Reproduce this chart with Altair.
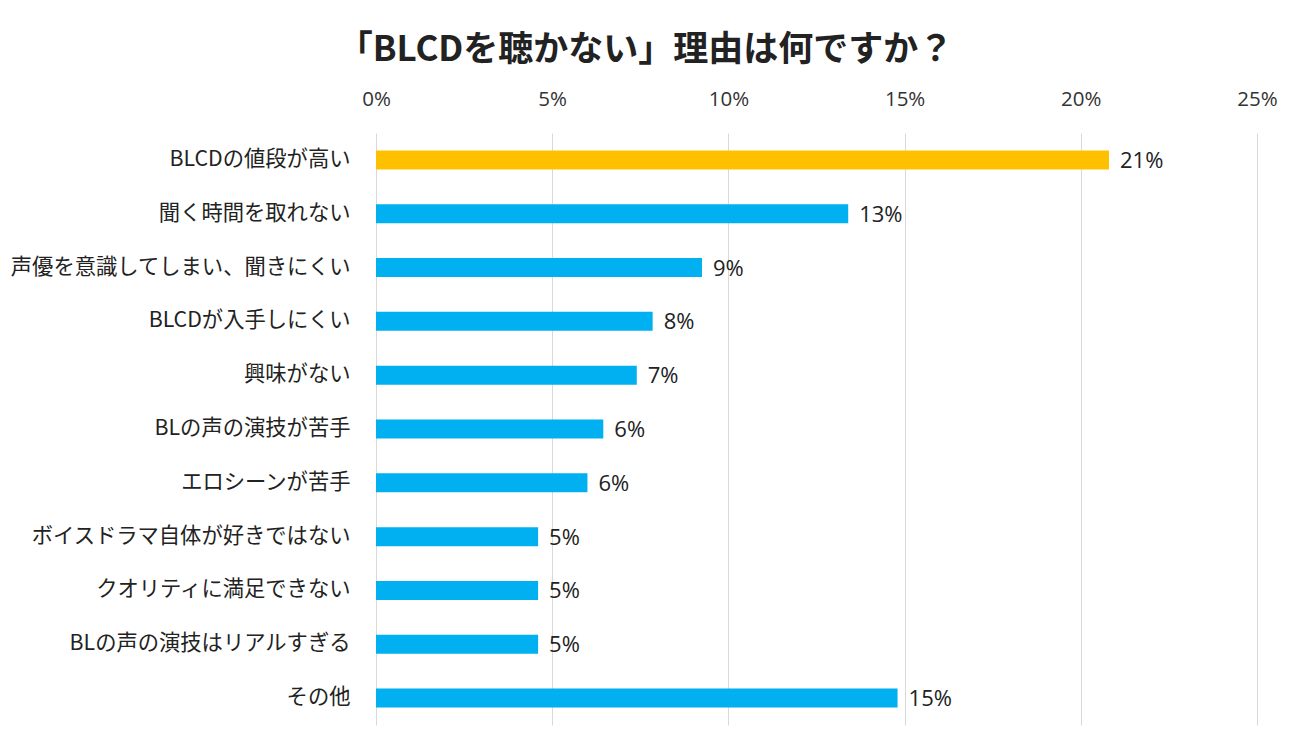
import altair as alt
import pandas as pd

categories = [
    "BLCDの値段が高い",
    "聞く時間を取れない",
    "声優を意識してしまい、聞きにくい",
    "BLCDが入手しにくい",
    "興味がない",
    "BLの声の演技が苦手",
    "エロシーンが苦手",
    "ボイスドラマ自体が好きではない",
    "クオリティに満足できない",
    "BLの声の演技はリアルすぎる",
    "その他",
]
values = [20.8, 13.4, 9.25, 7.85, 7.4, 6.45, 6.0, 4.6, 4.6, 4.6, 14.8]
highlight = [True, False, False, False, False, False, False, False, False, False, False]

df = pd.DataFrame({"cat": categories, "val": [v / 100 for v in values], "hl": highlight})

FONT = "Noto Sans CJK JP"
LATIN = "Open Sans, Noto Sans CJK JP"

y = alt.Y("cat:N", sort=categories, title=None,
          axis=alt.Axis(domain=False, ticks=False, labelFontSize=21.3, labelColor="#222222",
                        labelFont=FONT, labelPadding=26, grid=False, labelLimit=400))
x = alt.X("val:Q", title=None,
          scale=alt.Scale(domain=[0, 0.25], nice=False),
          axis=alt.Axis(orient="top", format=".0%", values=[0, 0.05, 0.1, 0.15, 0.2, 0.25],
                        domain=False, ticks=False, labelFontSize=20.5, labelColor="#333333",
                        labelFont=LATIN, labelPadding=24, labelFlush=False, grid=True,
                        gridColor="#d9d9d9", gridWidth=1))

bars = alt.Chart(df).mark_bar(size=19).encode(
    x=x, y=y,
    color=alt.Color("hl:N", scale=alt.Scale(domain=[True, False], range=["#FFC000", "#00B0F0"]),
                    legend=None),
)
labels = alt.Chart(df).mark_text(align="left", baseline="middle", dx=11, dy=1, fontSize=22,
                                 font=LATIN, color="#222222").encode(
    x=alt.X("val:Q"),
    y=alt.Y("cat:N", sort=categories),
    text=alt.Text("val:Q", format=".0%"),
)

chart = (bars + labels).properties(
    width=881, height=592,
    background="white",
    title=alt.TitleParams("「BLCDを聴かない」理由は何ですか？", font=FONT, fontSize=35,
                          fontWeight="bold", color="#222222", anchor="middle", dx=-171, offset=21),
    autosize=alt.AutoSizeParams(type="none"),
    padding={"left": 368, "top": 125, "right": 30, "bottom": 10},
).configure_view(stroke=None, strokeWidth=0).configure_axis(domain=False).configure_axisY(grid=False, domain=False)

chart.save("out.html", embed_options={"renderer": "svg", "actions": False})
